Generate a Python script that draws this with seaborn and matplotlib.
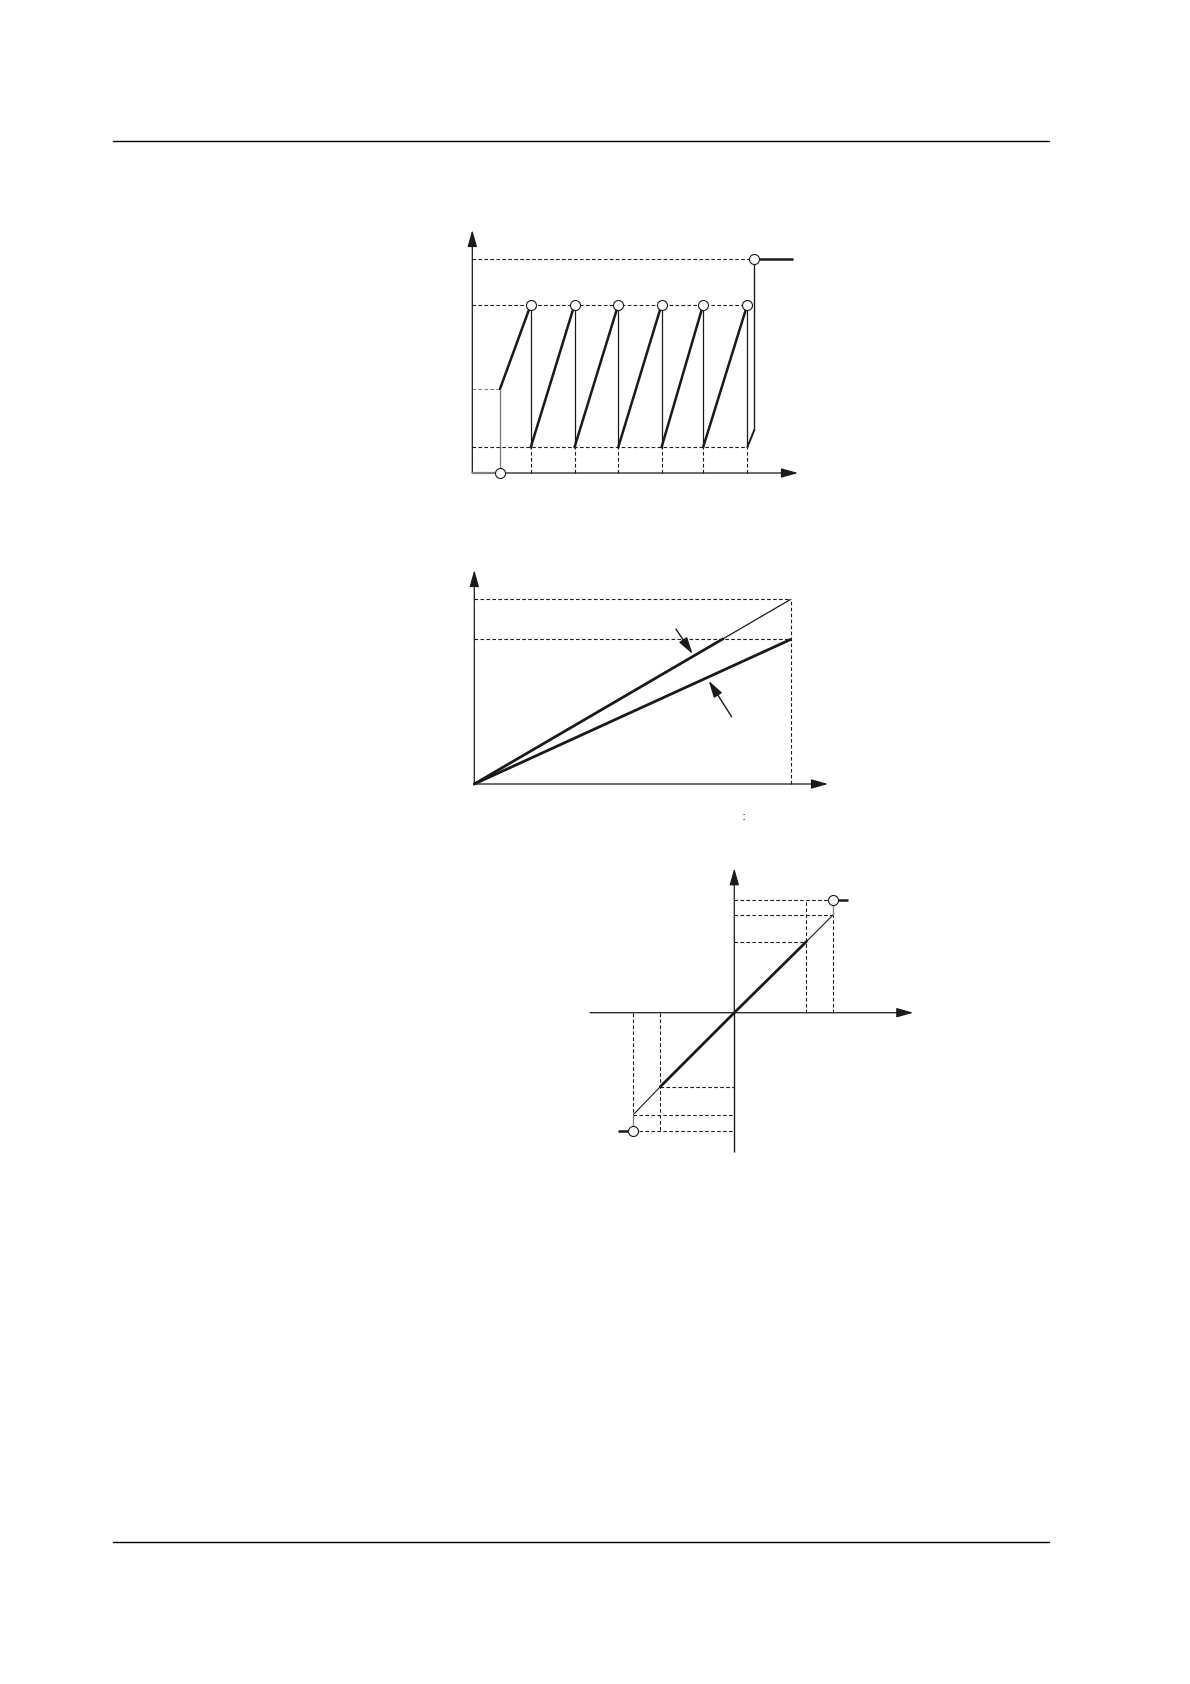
import matplotlib
matplotlib.use("Agg")
import matplotlib.pyplot as plt
import seaborn as sns
import pandas as pd
from matplotlib.lines import Line2D

sns.set_theme(style="white")
plt.rcParams['font.family'] = ['DejaVu Sans']
plt.rcParams['lines.scale_dashes'] = False

W, H = 1190, 1684

# --- top chart: sawtooth (time in periods, level relative to peak) ---
t_start = 0.64
start_level = 0.50
t_peaks = [1.35, 2.36, 3.37, 4.37, 5.33, 6.35]
peak_level = 1.00
trough_level = 0.153
t_last = 6.51
last_level = 0.255
top_level = 1.27
t_hold_end = 7.41
top_xmax, top_ymax = 7.52, 1.444

# --- middle chart: two ramps from the origin ---
x_end = 1.0
upper_end = 1.0
lower_end = 0.783
upper_thick_to = 0.786
arrow_upper = [(0.6375, 0.839), (0.690, 0.704)]   # tail, head
arrow_lower = [(0.8135, 0.364), (0.741, 0.559)]
mid_xmax, mid_ymax = 1.118, 1.159

# --- bottom chart: symmetric transfer line ---
thick_pos = (0.72, 0.71)
thin_pos = (0.99, 0.98)
clamp_pos = 1.13
stub_pos = 1.14
thick_neg = (-0.74, -0.74)
thin_neg = (-1.01, -1.02)
clamp_neg = -1.18
stub_neg = -1.16
bot_xlim = (-1.443, 1.79)
bot_ylim = (-1.39, 1.444)

INK = "#1a1a1a"
GREY = "#808080"
DASH = (0, (2.6, 1.7))


def place(fig, x0, x1, y0, y1):
    # pixel box -> figure fraction axes
    ax = fig.add_axes([x0 / W, 1 - y1 / H, (x1 - x0) / W, (y1 - y0) / H])
    ax.set_axis_off()
    return ax


def arrow(ax, tail, head, lw=0.9):
    ax.annotate("", xy=head, xytext=tail,
                arrowprops=dict(arrowstyle="-|>,head_length=0.85,head_width=0.24",
                                color=INK, lw=lw, shrinkA=0, shrinkB=0))


def seg(ax, xs, ys, lw=0.8, color=INK, ls="-", z=2):
    ax.plot(xs, ys, color=color, lw=lw, ls=ls, clip_on=False, zorder=z,
            solid_capstyle="butt")


def circle(ax, x, y):
    ax.plot([x], [y], marker="o", ms=7.2, mfc="white", mec=INK, mew=0.8,
            clip_on=False, zorder=5)


fig = plt.figure(figsize=(W / 100, H / 100), dpi=100)
fig.patch.set_facecolor("white")

# page rules
fig.add_artist(Line2D([113 / W, 1049 / W], [1 - 141.3 / H, 1 - 141.3 / H], color="black", lw=1.0))
fig.add_artist(Line2D([113 / W, 1049 / W], [1 - 1541.7 / H, 1 - 1541.7 / H], color="black", lw=1.0))

# ================= top chart =================
ax = place(fig, 472.3, 798, 230, 473)
ax.set_xlim(0, top_xmax)
ax.set_ylim(0, top_ymax)
arrow(ax, (0, 0), (top_xmax, 0))
arrow(ax, (0, 0), (0, top_ymax))

# dashed guides
seg(ax, [0, t_last], [top_level, top_level], ls=DASH)
seg(ax, [0, t_peaks[-1]], [peak_level, peak_level], ls=DASH)
seg(ax, [0, t_peaks[-1]], [trough_level, trough_level], ls=DASH)
for tp in t_peaks:
    seg(ax, [tp, tp], [0, trough_level], ls=DASH)

# start (grey)
seg(ax, [0, t_start], [start_level, start_level], color=GREY, ls=DASH)
seg(ax, [t_start, t_start], [0, start_level], color=GREY, lw=1.0)
seg(ax, [0, t_start], [0, 0], color=GREY, lw=1.6, z=3)

# ramps (thick)
ramp_x = [t_start] + t_peaks[:-1]
ramp_y0 = [start_level] + [trough_level] * (len(t_peaks) - 1)
for x0, y0, x1 in zip(ramp_x, ramp_y0, t_peaks):
    ramp = pd.DataFrame({"t": [x0, x1], "v": [y0, peak_level]})
    sns.lineplot(data=ramp, x="t", y="v", ax=ax, color=INK, lw=1.8,
                 sort=False, clip_on=False, zorder=3)
last = pd.DataFrame({"t": [t_peaks[-1], t_last], "v": [trough_level, last_level]})
sns.lineplot(data=last, x="t", y="v", ax=ax, color=INK, lw=1.4, sort=False,
             clip_on=False, zorder=3)

# drops (thin)
for tp in t_peaks:
    seg(ax, [tp, tp], [trough_level, peak_level], lw=0.9)
seg(ax, [t_last, t_last], [last_level, top_level], lw=1.0)
seg(ax, [t_last, t_hold_end], [top_level, top_level], lw=1.8, z=3)

for tp in t_peaks:
    circle(ax, tp, peak_level)
circle(ax, t_last, top_level)
circle(ax, t_start, 0)
ax.set_xlabel("")
ax.set_ylabel("")

# ================= middle chart =================
ax = place(fig, 474.3, 828, 570, 784)
ax.set_xlim(0, mid_xmax)
ax.set_ylim(0, mid_ymax)
arrow(ax, (0, 0), (mid_xmax, 0))
arrow(ax, (0, 0), (0, mid_ymax))

seg(ax, [0, x_end], [upper_end, upper_end], ls=DASH)
seg(ax, [0, x_end], [lower_end, lower_end], ls=DASH)
seg(ax, [x_end, x_end], [0, upper_end], ls=DASH)

upper = pd.DataFrame({"x": [0, upper_thick_to],
                      "y": [0, upper_end * upper_thick_to / x_end]})
sns.lineplot(data=upper, x="x", y="y", ax=ax, color=INK, lw=2.0, clip_on=False, zorder=3)
seg(ax, [upper_thick_to, x_end], [upper_end * upper_thick_to / x_end, upper_end], lw=0.9)
lower = pd.DataFrame({"x": [0, x_end], "y": [0, lower_end]})
sns.lineplot(data=lower, x="x", y="y", ax=ax, color=INK, lw=2.0, clip_on=False, zorder=3)

arrow(ax, arrow_upper[0], arrow_upper[1], lw=1.0)
arrow(ax, arrow_lower[0], arrow_lower[1], lw=1.0)
ax.text(0.851, -0.175, ":", ha="center", va="center", fontsize=9, color=INK)
ax.set_xlabel("")
ax.set_ylabel("")

# ================= bottom chart =================
ax = place(fig, 590, 913.3, 868.3, 1151.7)
ax.set_xlim(*bot_xlim)
ax.set_ylim(*bot_ylim)
arrow(ax, (bot_xlim[0], 0), (bot_xlim[1], 0))
seg(ax, [0, 0], [bot_ylim[0], 0], lw=1.0)
arrow(ax, (0, 0), (0, bot_ylim[1]))

# positive side guides
seg(ax, [0, thin_pos[0]], [clamp_pos, clamp_pos], ls=DASH)
seg(ax, [0, thin_pos[0]], [thin_pos[1], thin_pos[1]], ls=DASH)
seg(ax, [0, thick_pos[0]], [thick_pos[1], thick_pos[1]], ls=DASH)
seg(ax, [thick_pos[0], thick_pos[0]], [0, clamp_pos], ls=DASH)
seg(ax, [thin_pos[0], thin_pos[0]], [0, thin_pos[1]], ls=DASH)
# negative side guides
seg(ax, [thin_neg[0], 0], [clamp_neg, clamp_neg], ls=DASH)
seg(ax, [thin_neg[0], 0], [thin_neg[1], thin_neg[1]], ls=DASH)
seg(ax, [thick_neg[0], 0], [thick_neg[1], thick_neg[1]], ls=DASH)
seg(ax, [thick_neg[0], thick_neg[0]], [0, clamp_neg], ls=DASH)
seg(ax, [thin_neg[0], thin_neg[0]], [0, thin_neg[1]], ls=DASH)

core = pd.DataFrame({"x": [thick_neg[0], 0, thick_pos[0]],
                     "y": [thick_neg[1], 0, thick_pos[1]]})
sns.lineplot(data=core, x="x", y="y", ax=ax, color=INK, lw=2.0, clip_on=False, zorder=3)
seg(ax, [thick_pos[0], thin_pos[0]], [thick_pos[1], thin_pos[1]], lw=0.8)
seg(ax, [thick_neg[0], thin_neg[0]], [thick_neg[1], thin_neg[1]], lw=0.8)
seg(ax, [thin_pos[0], thin_pos[0]], [thin_pos[1], clamp_pos], color=GREY, lw=1.0)
seg(ax, [thin_neg[0], thin_neg[0]], [thin_neg[1], clamp_neg], color=GREY, lw=1.0)
seg(ax, [thin_pos[0], stub_pos], [clamp_pos, clamp_pos], lw=1.8, z=3)
seg(ax, [stub_neg, thin_neg[0]], [clamp_neg, clamp_neg], lw=1.8, z=3)
circle(ax, thin_pos[0], clamp_pos)
circle(ax, thin_neg[0], clamp_neg)
ax.set_xlabel("")
ax.set_ylabel("")

fig.savefig("out.png", dpi=100, facecolor="white")
